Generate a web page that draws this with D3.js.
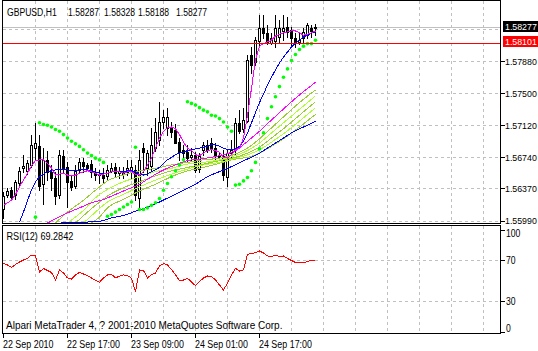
<!DOCTYPE html>
<html>
<head>
<meta charset="utf-8">
<script src="https://cdn.jsdelivr.net/npm/d3@7"></script>
<style>
  body { margin: 0; background: #fff; }
  svg { display: block; font-family: 'Liberation Sans', Arial, sans-serif; font-size: 10px; }
  .plabel { font-size: 8.8px; }
</style>
</head>
<body>
<div id="chart"></div>
<script>
// GBPUSD H1 bars (bar 0 = 22 Sep 2010)
const open = [1.5612,1.5629,1.5635,1.5629,1.5644,1.5662,1.5658,1.5665,1.5685,1.5688,
  1.5643,1.5671,1.5657,1.5650,1.5629,1.5676,1.5663,1.5646,1.5640,1.5659,
  1.5669,1.5665,1.5666,1.5657,1.5653,1.5653,1.5652,1.5658,1.5663,1.5656,
  1.5658,1.5656,1.5660,1.5659,1.5626,1.5685,1.5661,1.5664,1.5685,1.5695,
  1.5716,1.5709,1.5709,1.5707,1.5692,1.5683,1.5680,1.5675,1.5677,1.5659,
  1.5683,1.5689,1.5691,1.5685,1.5677,1.5675,1.5651,1.5680,1.5683,1.5715,
  1.5707,1.5718,1.5796,1.5787,1.5813,1.5828,1.5822,1.5810,1.5813,1.5817,
  1.5825,1.5829,1.5825,1.5816,1.5811,1.5816,1.5819,1.5828,1.58287];
const high = [1.5633,1.5638,1.5639,1.5647,1.5663,1.5677,1.5671,1.5701,1.5715,1.5700,
  1.5685,1.5681,1.5665,1.5657,1.5683,1.5683,1.5669,1.5653,1.5665,1.5673,
  1.5673,1.5667,1.5671,1.5661,1.5659,1.5661,1.5665,1.5667,1.5667,1.5663,
  1.5663,1.5671,1.5671,1.5665,1.5683,1.5691,1.5683,1.5709,1.5721,1.5740,
  1.5730,1.5733,1.5716,1.5713,1.5697,1.5689,1.5689,1.5685,1.5680,1.5679,
  1.5692,1.5695,1.5697,1.5691,1.5680,1.5683,1.5683,1.5695,1.5721,1.5730,
  1.5733,1.5796,1.5805,1.5817,1.5843,1.5843,1.5831,1.5822,1.5843,1.5837,
  1.5843,1.5841,1.5829,1.5822,1.5822,1.5828,1.5834,1.5831,1.58328];
const low = [1.5602,1.5627,1.5625,1.5625,1.5641,1.5657,1.5654,1.5663,1.5671,1.5635,
  1.5618,1.5647,1.5635,1.5618,1.5626,1.5657,1.5615,1.5635,1.5638,1.5657,
  1.5656,1.5659,1.5651,1.5647,1.5644,1.5645,1.5647,1.5656,1.5651,1.5650,
  1.5650,1.5653,1.5650,1.5623,1.5612,1.5657,1.5653,1.5659,1.5681,1.5689,
  1.5709,1.5701,1.5698,1.5691,1.5671,1.5673,1.5669,1.5671,1.5657,1.5657,
  1.5677,1.5680,1.5680,1.5671,1.5671,1.5647,1.5640,1.5673,1.5677,1.5703,
  1.5704,1.5716,1.5774,1.5784,1.5805,1.5816,1.5808,1.5808,1.5805,1.5811,
  1.5813,1.5817,1.5805,1.5805,1.5808,1.5811,1.5816,1.5817,1.58188];
const close = [1.5628,1.5634,1.5627,1.5645,1.5658,1.5664,1.5667,1.5689,1.5691,1.5641,
  1.5671,1.5657,1.5650,1.5629,1.5677,1.5661,1.5645,1.5639,1.5658,1.5669,
  1.5664,1.5661,1.5657,1.5653,1.5654,1.5650,1.5659,1.5661,1.5656,1.5658,
  1.5654,1.5661,1.5663,1.5629,1.5671,1.5680,1.5679,1.5689,1.5704,1.5716,
  1.5722,1.5722,1.5704,1.5692,1.5680,1.5679,1.5673,1.5677,1.5659,1.5675,
  1.5689,1.5683,1.5685,1.5677,1.5675,1.5653,1.5679,1.5683,1.5715,1.5705,
  1.5718,1.5790,1.5784,1.5813,1.5828,1.5822,1.5810,1.5816,1.5828,1.5828,
  1.5828,1.5823,1.5816,1.5810,1.5813,1.5823,1.5831,1.5825,1.58277];

// Moving averages, one value per bar
const fastMagenta = [1.5617,1.5620,1.5623,1.5630,1.5639,1.5647,1.5655,1.5664,1.5670,1.5671,
  1.5671,1.5667,1.5661,1.5653,1.5654,1.5655,1.5653,1.5652,1.5653,1.5655,
  1.5657,1.5658,1.5657,1.5655,1.5653,1.5654,1.5655,1.5657,1.5657,1.5657,
  1.5655,1.5657,1.5657,1.5654,1.5653,1.5657,1.5665,1.5673,1.5685,1.5697,
  1.5705,1.5709,1.5710,1.5708,1.5701,1.5692,1.5685,1.5682,1.5677,1.5676,
  1.5679,1.5682,1.5683,1.5682,1.5680,1.5674,1.5673,1.5677,1.5683,1.5685,
  1.5697,1.5724,1.5756,1.5790,1.5806,1.5809,1.5811,1.5813,1.5818,1.5820,
  1.5822,1.5823,1.5824,1.5824,1.5822,1.5819,1.5820,1.5822,1.5824];
const fastBlue = [null,null,null,null,1.5597,1.5609,1.5623,1.5635,1.5645,1.5651,
  1.5654,1.5657,1.5658,1.5659,1.5659,1.5660,1.5659,1.5658,1.5658,1.5659,
  1.5659,1.5659,1.5658,1.5657,1.5655,1.5655,1.5655,1.5657,1.5657,1.5657,
  1.5657,1.5658,1.5658,1.5657,1.5654,1.5653,1.5654,1.5657,1.5659,1.5662,
  1.5667,1.5671,1.5674,1.5677,1.5679,1.5680,1.5682,1.5683,1.5684,1.5685,
  1.5686,1.5687,1.5689,1.5689,1.5687,1.5685,1.5683,1.5683,1.5684,1.5687,
  1.5693,1.5703,1.5715,1.5727,1.5739,1.5749,1.5760,1.5769,1.5778,1.5786,
  1.5793,1.5799,1.5805,1.5810,1.5813,1.5817,1.5819,1.5822,1.5823];

// Slow averages, [bar, price]
const slowMagenta = [[11,1.5596],[13,1.5601],[16,1.5608],[19,1.5614],[22,1.5620],[25,1.5624],
  [28,1.5630],[31,1.5636],[34,1.5642],[37,1.5651],[40,1.5659],[43,1.5665],[46,1.5670],
  [49,1.5672],[52,1.5674],[55,1.5677],[58,1.5682],[60,1.5689],[62,1.5697],[64,1.5705],
  [66,1.5714],[69,1.5727],[72,1.5740],[75,1.5752],[78,1.5763]];
const slowBlue = [[8,1.5596],[14,1.5596],[20,1.5597],[24,1.5598],[27,1.5602],[30,1.5605],
  [33,1.5610],[36,1.5615],[39,1.5621],[42,1.5628],[45,1.5635],[48,1.5642],[51,1.5651],
  [54,1.5657],[56,1.5661],[58,1.5665],[60,1.5670],[62,1.5674],[64,1.5679],[66,1.5685],
  [68,1.5691],[70,1.5697],[72,1.5703],[74,1.5708],[76,1.5712],[78,1.5717]];
const ribbon1 = [[13,1.5596],[16,1.5609],[20,1.5623],[23,1.5635],[26,1.5646],[30,1.5653],
  [34,1.5658],[38,1.5661],[42,1.5665],[46,1.5668],[50,1.5671],[54,1.5673],[58,1.5678],
  [61,1.5685],[64,1.5696],[67,1.5709],[70,1.5722],[74,1.5739],[78,1.5754]];
const ribbon2 = [[16,1.5596],[20,1.5611],[23,1.5626],[26,1.5636],[30,1.5645],[34,1.5651],
  [38,1.5657],[42,1.5661],[46,1.5666],[50,1.5668],[54,1.5671],[58,1.5676],[61,1.5682],
  [64,1.5691],[67,1.5703],[70,1.5715],[74,1.5731],[78,1.5747]];
const ribbon3 = [[18,1.5596],[21,1.5609],[23,1.5617],[26,1.5628],[30,1.5638],[34,1.5645],
  [38,1.5652],[42,1.5658],[46,1.5662],[50,1.5666],[54,1.5670],[58,1.5674],[61,1.5679],
  [64,1.5686],[67,1.5697],[70,1.5708],[74,1.5724],[78,1.5740]];
const ribbon4 = [[20,1.5596],[23,1.5609],[26,1.5621],[30,1.5630],[34,1.5639],[38,1.5647],
  [42,1.5654],[46,1.5660],[50,1.5665],[54,1.5668],[58,1.5673],[61,1.5677],[64,1.5683],
  [67,1.5692],[70,1.5702],[74,1.5717],[78,1.5733]];
const ribbon5 = [[22,1.5596],[24,1.5603],[26,1.5614],[30,1.5624],[34,1.5634],[38,1.5642],
  [42,1.5651],[46,1.5658],[50,1.5662],[54,1.5667],[58,1.5672],[61,1.5674],[64,1.5679],
  [67,1.5687],[70,1.5696],[74,1.5710],[78,1.5725]];

// Parabolic SAR
const sar = [null,null,null,null,null,null,null,null,1.5603,
  1.5715,1.5713,1.5712,1.5710,1.5707,1.5705,1.5701,1.5697,1.5693,1.5690,1.5687,1.5683,
  1.5679,1.5676,1.5673,1.5671,1.5668,
  1.5604,1.5606,1.5609,1.5612,1.5615,1.5618,1.5621,1.5686,
  1.5612,1.5612,1.5614,1.5617,1.5620,1.5625,1.5635,1.5643,1.5651,1.5658,1.5665,1.5671,
  1.5740,1.5738,1.5736,1.5733,1.5730,1.5728,1.5724,1.5723,1.5720,1.5716,1.5710,1.5705,
  1.5641,1.5642,1.5646,1.5650,1.5658,1.5668,1.5684,1.5703,1.5720,1.5734,1.5746,1.5758,
  1.5769,1.5779,1.5789,1.5796,1.5802,1.5806,1.5809,1.5809,1.5813];

// RSI(12)
const rsi = [66.3,64.7,62.3,65.2,67.6,69.5,71.2,74.3,73.4,58.0,
  61.3,59.4,57.5,50.2,59.9,57.0,52.2,51.2,55.1,57.5,
  56.0,54.6,52.2,49.8,48.0,52.2,55.1,55.5,52.5,53.8,
  55.1,54.6,51.9,39.0,59.9,59.4,52.2,55.5,57.0,63.7,
  66.1,64.7,60.4,55.1,49.8,50.2,51.9,48.3,44.7,48.8,
  52.2,54.1,53.6,50.2,45.4,40.6,47.3,55.1,61.5,58.9,
  59.9,75.0,75.8,76.7,78.2,76.3,73.4,72.9,74.3,72.9,
  73.4,71.0,69.0,67.1,66.9,66.9,68.1,69.5,69.2842];

// Axis ticks and labels
const priceGrid = [1.5826, 1.5788, 1.5750, 1.5712, 1.5674, 1.5637, 1.5599];
const priceLabels = ['', '1.57880', '1.57500', '1.57120', '1.56740', '1.56370', '1.55990'];
const bidPrice = 1.58277;
const linePrice = 1.58101;
const rsiTicks = [100, 70, 30, 0];
const rsiGrid = [70, 30];
const timeBars = [0, 16, 32, 48, 64];
const timeLabels = ['22 Sep 2010', '22 Sep 17:00', '23 Sep 09:00', '24 Sep 01:00', '24 Sep 17:00'];
const headerParts = ['GBPUSD,H1', '1.58287', '1.58328', '1.58188', '1.58277'];
const rsiText = 'RSI(12) 69.2842';
const footerText = 'Alpari MetaTrader 4, ? 2001-2010 MetaQuotes Software Corp.';

let svgwidth = 538;
let svgheight = 351;
let left = 2.5, right = 500.5;
let mainTop = 0.5, mainBottom = 223.5;
let rsiTop = 225.5, rsiBottom = 333.5;

let svg = d3.select('#chart').append('svg')
  .attr('width', svgwidth)
  .attr('height', svgheight);

let x = d3.scaleLinear().domain([0, 124]).range([3, 499]);
let y = d3.scaleLinear().domain([1.5599, 1.5826]).range([220.5, 29.3]);
let yr = d3.scaleLinear().domain([0, 100]).range([332.1, 228.4]);
let px = (i) => Math.round(x(i)) + 0.5;
let snap = (v) => Math.round(v) + 0.5;

// squeeze text to the narrow terminal font
function condense(sel, k) {
  sel.each(function () {
    let w = this.getComputedTextLength();
    if (w > 0) d3.select(this).attr('textLength', w * k).attr('lengthAdjust', 'spacingAndGlyphs');
  });
}

// clip paths for the two panes
let defs = svg.append('defs');
defs.append('clipPath').attr('id', 'clipMain').append('rect')
  .attr('x', left + 0.5).attr('y', mainTop + 0.5)
  .attr('width', right - left - 1).attr('height', mainBottom - mainTop - 1);
defs.append('clipPath').attr('id', 'clipRsi').append('rect')
  .attr('x', left + 0.5).attr('y', rsiTop + 0.5)
  .attr('width', right - left - 1).attr('height', rsiBottom - rsiTop - 1);

// Grid
let gridBars = d3.range(8, 125, 8);
let grid = svg.append('g')
  .attr('stroke', '#c0c0c0')
  .attr('stroke-dasharray', '3,3')
  .attr('shape-rendering', 'crispEdges');
grid.selectAll('.vm').data(gridBars).join('line')
  .attr('x1', (d) => px(d)).attr('x2', (d) => px(d))
  .attr('y1', mainTop).attr('y2', mainBottom);
grid.selectAll('.vr').data(gridBars).join('line')
  .attr('x1', (d) => px(d)).attr('x2', (d) => px(d))
  .attr('y1', rsiTop).attr('y2', rsiBottom);
grid.selectAll('.hm').data(priceGrid).join('line')
  .attr('x1', left).attr('x2', right)
  .attr('y1', (d) => snap(y(d))).attr('y2', (d) => snap(y(d)));
grid.selectAll('.hr').data(rsiGrid).join('line')
  .attr('x1', left).attr('x2', right)
  .attr('y1', (d) => snap(yr(d))).attr('y2', (d) => snap(yr(d)));

// Main pane
let main = svg.append('g').attr('clip-path', 'url(#clipMain)');

// bid line
main.append('rect')
  .attr('x', left).attr('width', right - left)
  .attr('y', Math.round(y(bidPrice)) - 1).attr('height', 1)
  .attr('fill', '#c0c0c0');

// candles
let bars = main.append('g').attr('class', 'candles').attr('shape-rendering', 'crispEdges');
let bdata = open.map((o, i) => ({ i: i, o: o, h: high[i], l: low[i], c: close[i] }));
bars.selectAll('line').data(bdata).join('line')
  .attr('x1', (d) => px(d.i)).attr('x2', (d) => px(d.i))
  .attr('y1', (d) => Math.round(y(d.h))).attr('y2', (d) => Math.round(y(d.l)) + 1)
  .attr('stroke', '#000');
bars.selectAll('rect').data(bdata).join('rect')
  .attr('x', (d) => px(d.i) - 1)
  .attr('y', (d) => snap(Math.min(y(d.o), y(d.c))))
  .attr('width', 2)
  .attr('height', (d) => Math.max(0, Math.round(Math.abs(y(d.o) - y(d.c)))))
  .attr('fill', (d) => (d.c >= d.o ? '#fff' : '#000'))
  .attr('stroke', '#000');

// indicator lines
let lineBar = d3.line()
  .defined((d) => d != null)
  .x((d, i) => px(i))
  .y((d) => y(d));
let linePair = d3.line()
  .curve(d3.curveMonotoneX)
  .x((d) => px(d[0]))
  .y((d) => y(d[1]));

let ind = main.append('g').attr('fill', 'none').attr('shape-rendering', 'crispEdges');
let ribbons = [ribbon5, ribbon4, ribbon3, ribbon2, ribbon1];
let ribbonColors = ['#9acd32', '#adff2f', '#9acd32', '#adff2f', '#9acd32'];
ind.selectAll('.ribbon').data(ribbons).join('path')
  .attr('class', 'ribbon')
  .attr('d', (d) => linePair(d))
  .attr('stroke', (d, i) => ribbonColors[i]);
ind.append('path').attr('d', linePair(slowBlue)).attr('stroke', '#0000ff');
ind.append('path').attr('d', linePair(slowMagenta)).attr('stroke', '#ff00ff');
ind.append('path').attr('d', lineBar(fastBlue)).attr('stroke', '#0000ff');
ind.append('path').attr('d', lineBar(fastMagenta)).attr('stroke', '#ff00ff');

// parabolic SAR
main.selectAll('.sar').data(sar.map((v, i) => [i, v]).filter((d) => d[1] != null)).join('circle')
  .attr('class', 'sar')
  .attr('cx', (d) => px(d[0]))
  .attr('cy', (d) => y(d[1]))
  .attr('r', 1.8)
  .attr('fill', '#00ff00');

// horizontal line object
main.append('rect')
  .attr('x', left).attr('width', right - left)
  .attr('y', Math.round(y(linePrice))).attr('height', 1)
  .attr('fill', '#ff0000');

// RSI pane
let rsiG = svg.append('g').attr('clip-path', 'url(#clipRsi)');
rsiG.append('path')
  .attr('d', d3.line().x((d, i) => px(i)).y((d) => yr(d))(rsi))
  .attr('fill', 'none')
  .attr('stroke', '#ff0000')
  .attr('shape-rendering', 'crispEdges');

// Frames
svg.append('g')
  .attr('fill', 'none').attr('stroke', '#000').attr('shape-rendering', 'crispEdges')
  .selectAll('rect').data([[mainTop, mainBottom], [rsiTop, rsiBottom]]).join('rect')
  .attr('x', left).attr('y', (d) => d[0])
  .attr('width', right - left).attr('height', (d) => d[1] - d[0]);

// Price axis
let axis = svg.append('g');
axis.selectAll('line').data(priceGrid.filter((d, i) => priceLabels[i] !== '')).join('line')
  .attr('x1', right).attr('x2', right + 4)
  .attr('y1', (d) => snap(y(d))).attr('y2', (d) => snap(y(d)))
  .attr('stroke', '#000').attr('shape-rendering', 'crispEdges');
axis.selectAll('text').data(priceGrid).join('text')
  .attr('class', 'plabel')
  .attr('x', 505).attr('y', (d) => y(d) + 3.5)
  .text((d, i) => priceLabels[i]);

// price boxes
let boxes = [[bidPrice, '#000'], [linePrice, '#ff0000']];
let bx = svg.append('g').selectAll('g').data(boxes).join('g');
bx.append('rect')
  .attr('x', 503).attr('y', (d) => Math.round(y(d[0])) - 7)
  .attr('width', 35).attr('height', 11)
  .attr('fill', (d) => d[1]);
bx.append('text')
  .attr('class', 'plabel')
  .attr('x', 505).attr('y', (d) => Math.round(y(d[0])) + 1.5)
  .attr('fill', '#fff')
  .text((d) => d[0].toFixed(5));

// RSI axis
let raxis = svg.append('g');
raxis.selectAll('line').data(rsiTicks).join('line')
  .attr('x1', right).attr('x2', right + 4)
  .attr('y1', (d) => snap(Math.min(Math.max(yr(d), rsiTop + 4), rsiBottom)))
  .attr('y2', (d) => snap(Math.min(Math.max(yr(d), rsiTop + 4), rsiBottom)))
  .attr('stroke', '#000').attr('shape-rendering', 'crispEdges');
raxis.selectAll('text').data(rsiTicks).join('text')
  .attr('x', 506)
  .attr('y', (d) => Math.min(Math.max(yr(d), rsiTop + 7), rsiBottom - 6) + 4)
  .text((d) => d)
  .call(condense, 0.86);

// Time axis
let taxis = svg.append('g');
taxis.selectAll('line').data(timeBars).join('line')
  .attr('x1', (d) => px(d)).attr('x2', (d) => px(d))
  .attr('y1', rsiBottom).attr('y2', rsiBottom + 4)
  .attr('stroke', '#000').attr('shape-rendering', 'crispEdges');
taxis.selectAll('text').data(timeBars).join('text')
  .attr('x', (d) => px(d) - 0.5)
  .attr('y', 347.5)
  .text((d, i) => timeLabels[i])
  .call(condense, 0.89);

// Texts
let headerX = [7, 68, 104, 138, 176];
svg.append('g').selectAll('text').data(headerParts).join('text')
  .attr('x', (d, i) => headerX[i]).attr('y', 15.5)
  .text((d) => d)
  .call(condense, 0.86);
svg.append('text').attr('x', 6.5).attr('y', 239.5).text(rsiText).call(condense, 0.91);
svg.append('text').attr('x', 6).attr('y', 329).text(footerText);
</script>
</body>
</html>
